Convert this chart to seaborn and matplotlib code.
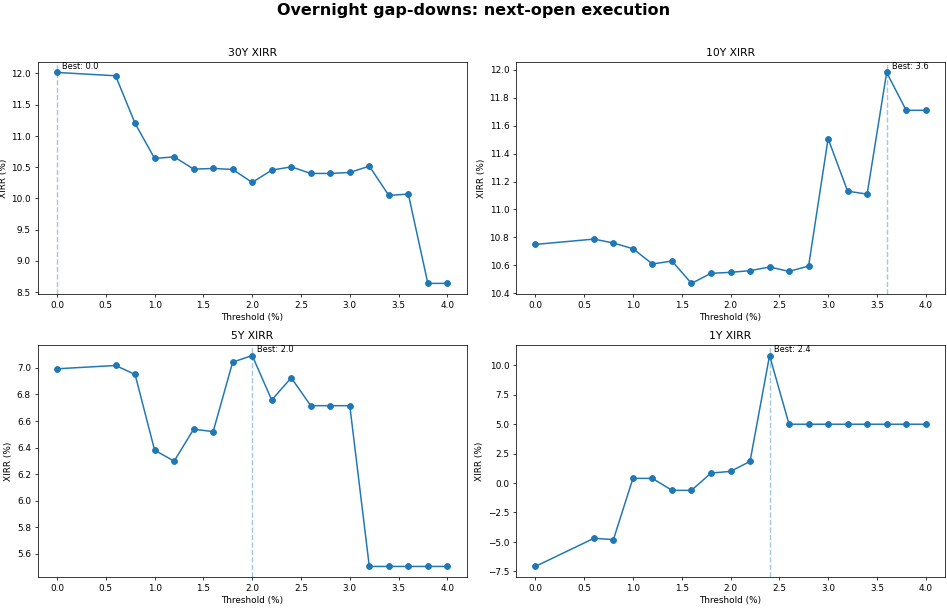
import numpy as np
import pandas as pd
import matplotlib
matplotlib.use("Agg")
import matplotlib.pyplot as plt
import matplotlib.transforms as mtransforms
import seaborn as sns

thresholds = [0.0, 0.6, 0.8, 1.0, 1.2, 1.4, 1.6, 1.8, 2.0, 2.2, 2.4, 2.6, 2.8, 3.0, 3.2, 3.4, 3.6, 3.8, 4.0]

xirr_30y = [12.016, 11.963, 11.20, 10.639, 10.665, 10.468, 10.479, 10.463, 10.255, 10.452,
            10.505, 10.399, 10.399, 10.415, 10.516, 10.048, 10.069, 8.639, 8.639]
xirr_10y = [10.750, 10.788, 10.760, 10.719, 10.610, 10.631, 10.471, 10.543, 10.550, 10.562,
            10.588, 10.557, 10.595, 11.507, 11.131, 11.110, 11.981, 11.710, 11.710]
xirr_5y = [6.9925, 7.0175, 6.950, 6.380, 6.2975, 6.5375, 6.520, 7.0425, 7.0925, 6.7575,
           6.925, 6.715, 6.715, 6.715, 5.505, 5.505, 5.505, 5.505, 5.505]
xirr_1y = [-7.077, -4.69, -4.80, 0.395, 0.395, -0.62, -0.62, 0.847, 0.988, 1.835,
           10.82, 4.99, 4.99, 4.99, 4.99, 4.99, 4.99, 4.99, 4.99]

titles = ["30Y XIRR", "10Y XIRR", "5Y XIRR", "1Y XIRR"]
series = [xirr_30y, xirr_10y, xirr_5y, xirr_1y]
suptitle = "Overnight gap-downs: next-open execution"

plt.rcParams["xtick.labelsize"] = 9.5
plt.rcParams["ytick.labelsize"] = 9.5
plt.rcParams["axes.labelsize"] = 9.5

fig, axes = plt.subplots(2, 2, figsize=(14, 9.048), dpi=67.65)
fig.subplots_adjust(left=0.0396, right=0.998, top=0.8987, bottom=0.0572,
                    wspace=0.114, hspace=0.22)

for ax, title, vals in zip(axes.flat, titles, series):
    df = pd.DataFrame({"Threshold (%)": thresholds, "XIRR (%)": vals})
    sns.lineplot(data=df, x="Threshold (%)", y="XIRR (%)", marker="o",
                 color="#1f77b4", markeredgecolor="#1f77b4", markeredgewidth=1.0,
                 markersize=6.2, linewidth=1.6, ax=ax)
    best_i = int(np.argmax(vals))
    best = thresholds[best_i]
    ax.axvline(best, color="#1f77b4", linestyle="--", alpha=0.4, linewidth=1.5)
    trans = mtransforms.blended_transform_factory(ax.transData, ax.transAxes)
    ax.text(best + 0.05, 1.0, f"Best: {best:.1f}", transform=trans,
            va="top", ha="left", fontsize=8.8)
    ax.set_title(title, fontsize=11.4)
    ax.set_xlabel("Threshold (%)")
    ax.set_ylabel("XIRR (%)")

fig.suptitle(suptitle, fontsize=17, fontweight="bold", y=0.995)
fig.savefig("out.png", dpi=67.65)
